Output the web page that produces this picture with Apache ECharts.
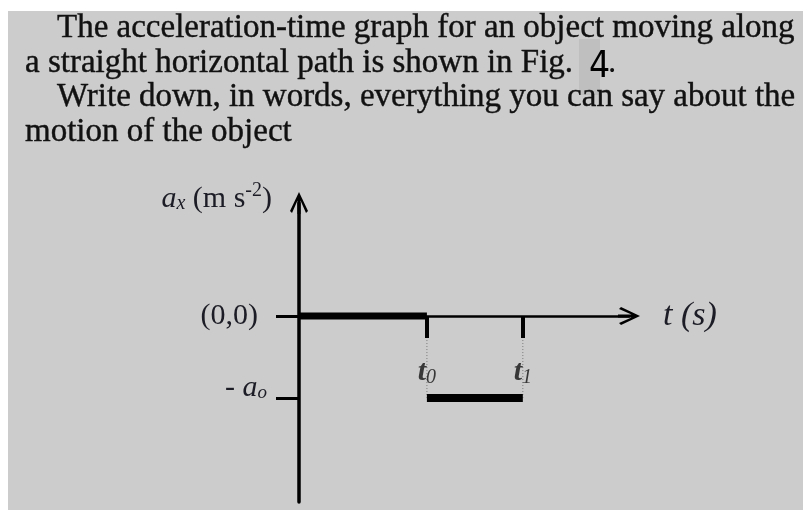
<!DOCTYPE html>
<html lang="en" style="height: 100%">
<head>
  <meta charset="utf-8">
</head>
<body style="height: 100%; margin: 0; background: #fff">
  <div id="container" style="width: 803px; height: 510px"></div>

  <script type="text/javascript" src="https://cdn.jsdelivr.net/npm/echarts@6/dist/echarts.min.js"></script>

  <script type="text/javascript">
    // question text, one entry per printed line
    var textLines = [
      'The acceleration-time graph for an object moving along',
      'a straight horizontal path is shown in Fig.',
      'Write down, in words, everything you can say about the',
      'motion of the object'
    ];
    var figNumber = '4';

    // time marks on the t axis, in units of t0, and their subscripts
    var tTicks = [1, 1.75];
    var tSubs = ['0', '1'];
    // acceleration marks on the a axis, in units of a0
    var aTicks = [0, -1];
    // a_x(t): zero until t0, then -a0 between t0 and t1
    var accelZero = [[0, 0], [1, 0]];
    var accelNeg = [[1, -1], [1.75, -1]];

    var dom = document.getElementById('container');
    var myChart = echarts.init(dom, null, { renderer: 'canvas' });

    var serif = '"Liberation Serif", "Times New Roman", serif';
    var ink = '#111';
    var labelInk = '#1c1c26';
    // open arrow head with a short stem, pointing up
    var arrowHead = 'path://M9,0 L18,19 L16,21 L10.5,8.5 L10.5,22 L7.5,22 L7.5,8.5 L2,21 L0,19 Z';

    // dotted drop lines from each time mark down to -a0
    var guides = tTicks.map(function (t) {
      return {
        type: 'line',
        data: [[t, aTicks[0]], [t, aTicks[1]]],
        symbol: 'none',
        silent: true,
        z: 1,
        lineStyle: { color: '#7a7a7a', width: 1, type: [1, 2] }
      };
    });

    // t0 / t1 names, hung just above the -a0 segment
    var tNameSeries = {
      type: 'scatter',
      data: tTicks.map(function (t) { return [t, aTicks[1]]; }),
      symbolSize: 1,
      silent: true,
      z: 5,
      itemStyle: { color: 'rgba(0,0,0,0)' },
      label: {
        show: true,
        position: 'top',
        distance: 10,
        color: labelInk,
        formatter: function (p) {
          return '{i|t}{sb|' + tSubs[p.dataIndex] + '}';
        },
        rich: {
          i: { fontFamily: serif, fontStyle: 'italic', fontWeight: 'bold', fontSize: 30, color: '#111' },
          sb: { fontFamily: serif, fontStyle: 'italic', fontSize: 20, color: '#111', padding: [10, 0, 0, 0] }
        }
      }
    };

    var lineX = [57, 25, 57, 25];
    var lineY = [28.5, 63.5, 97.5, 132.5];
    var textEls = textLines.map(function (s, i) {
      return {
        type: 'text',
        x: lineX[i],
        y: lineY[i],
        z: 10,
        silent: true,
        style: {
          text: s,
          fontFamily: serif,
          fontSize: 33,
          fill: ink,
          stroke: ink,
          lineWidth: 0.4,
          align: 'left',
          verticalAlign: 'middle'
        }
      };
    });

    var option = {
      backgroundColor: '#fff',
      animation: false,
      graphic: [
        {
          type: 'rect',
          z: -10,
          silent: true,
          shape: { x: 8, y: 11, width: 795, height: 499 },
          style: { fill: '#cccccc' }
        },
        {
          type: 'rect',
          z: -5,
          silent: true,
          shape: { x: 579, y: 39, width: 21, height: 56 },
          style: { fill: '#bfbfbf' }
        },
        {
          type: 'text',
          x: 589,
          y: 67.5,
          z: 10,
          silent: true,
          style: {
            text: figNumber,
            fontFamily: '"Liberation Sans Narrow", "DejaVu Sans Condensed", sans-serif',
            fontSize: 37,
            fill: '#000',
            align: 'left',
            verticalAlign: 'middle'
          }
        },
        {
          type: 'text',
          x: 608,
          y: 63.5,
          z: 10,
          silent: true,
          style: {
            text: '.',
            fontFamily: serif,
            fontSize: 33,
            fill: ink,
            align: 'left',
            verticalAlign: 'middle'
          }
        }
      ].concat(textEls),
      grid: {
        left: 299,
        right: 174,
        top: 203,
        bottom: 8,
        outerBoundsMode: 'none'
      },
      xAxis: {
        type: 'value',
        min: 0,
        max: 2.58,
        z: 2,
        name: 't (s)',
        nameLocation: 'end',
        nameGap: 34,
        nameTextStyle: {
          fontFamily: serif,
          fontStyle: 'italic',
          fontSize: 34,
          color: labelInk,
          align: 'left',
          verticalAlign: 'middle',
          padding: [14, 0, 0, 0]
        },
        axisLine: {
          onZero: true,
          symbol: ['none', arrowHead],
          symbolSize: [18, 22],
          lineStyle: { color: '#000', width: 2.5 }
        },
        axisTick: {
          show: true,
          customValues: tTicks,
          length: 22,
          lineStyle: { color: '#000', width: 4 }
        },
        axisLabel: { show: false },
        splitLine: { show: false }
      },
      yAxis: {
        type: 'value',
        min: -2.27,
        max: 1.38,
        z: 2,
        name: '{i|a}{sb|x}{r| (m s}{sp|-2}{r|)}',
        nameLocation: 'end',
        nameGap: 4,
        nameTextStyle: {
          align: 'right',
          verticalAlign: 'middle',
          padding: [0, 27, 0, 0],
          rich: {
            i: { fontFamily: serif, fontStyle: 'italic', fontSize: 30, color: labelInk },
            sb: { fontFamily: serif, fontStyle: 'italic', fontSize: 20, color: labelInk, padding: [10, 0, 0, 0] },
            r: { fontFamily: serif, fontSize: 30, color: labelInk },
            sp: { fontFamily: serif, fontSize: 20, color: labelInk, padding: [0, 0, 16, 0] }
          }
        },
        axisLine: {
          show: true,
          symbol: ['none', arrowHead],
          symbolSize: [18, 22],
          lineStyle: { color: '#000', width: 3.5 }
        },
        axisTick: {
          show: true,
          customValues: aTicks,
          length: 23,
          lineStyle: { color: '#000', width: 3 }
        },
        axisLabel: {
          customValues: aTicks,
          margin: 32,
          formatter: function (v) {
            if (v === aTicks[0]) return '{z|(0,0)}';
            return '{r|- }{i|a}{sb|o}';
          },
          rich: {
            z: { fontFamily: serif, fontSize: 30, color: labelInk, padding: [0, 9, 0, 0] },
            r: { fontFamily: serif, fontSize: 30, color: labelInk, padding: [0, 0, 20, 0] },
            i: { fontFamily: serif, fontStyle: 'italic', fontSize: 30, color: labelInk, padding: [0, 0, 20, 0] },
            sb: { fontFamily: serif, fontStyle: 'italic', fontSize: 19, color: labelInk, padding: [0, 0, 10, 0] }
          }
        },
        splitLine: { show: false }
      },
      series: [
        {
          type: 'line',
          data: accelZero,
          symbol: 'none',
          silent: true,
          z: 3,
          lineStyle: { color: '#000', width: 7, cap: 'butt' }
        },
        {
          type: 'line',
          data: accelNeg,
          symbol: 'none',
          silent: true,
          z: 3,
          lineStyle: { color: '#000', width: 8, cap: 'butt' }
        },
        tNameSeries
      ].concat(guides)
    };

    myChart.setOption(option);
    window.addEventListener('resize', myChart.resize);
  </script>
</body>
</html>
